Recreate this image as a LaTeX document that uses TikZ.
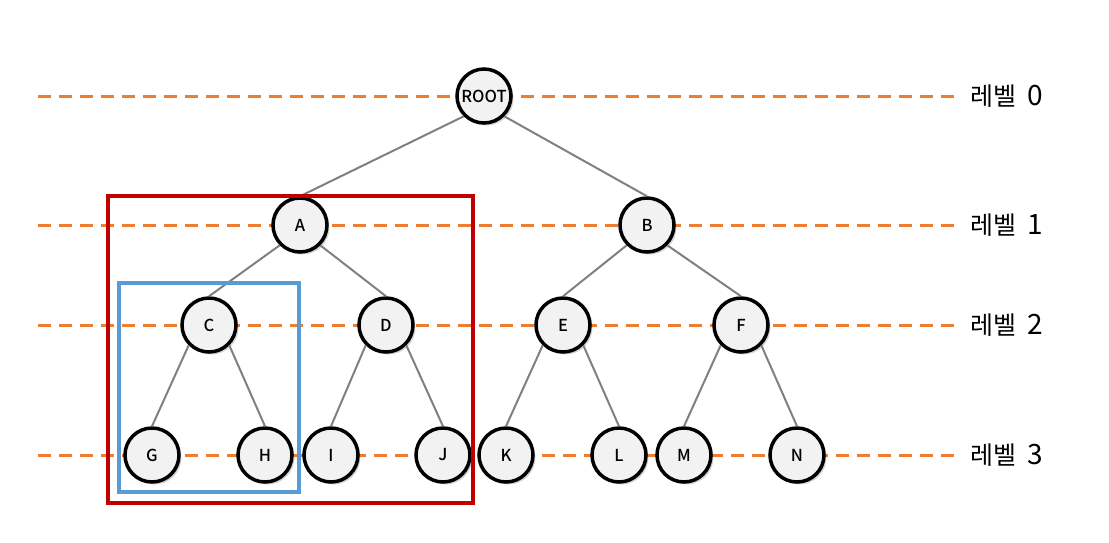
\documentclass[tikz,border=0pt]{standalone}
\usepackage{fontspec}
\setmainfont{Noto Sans CJK KR}
\newfontfamily\nodefont{Noto Sans CJK KR Medium}
\usetikzlibrary{shadows}
\definecolor{dashorange}{HTML}{ED7D31}
\definecolor{boxred}{HTML}{C00000}
\definecolor{boxblue}{HTML}{5B9BD5}
\definecolor{nodefill}{HTML}{F2F2F2}
\begin{document}
\begin{tikzpicture}[x=1pt,y=-1pt,
  treenode/.style={circle, draw=black, line width=3.5pt, fill=nodefill, minimum size=54pt, inner sep=0pt, font=\nodefont\fontsize{16.5}{19}\selectfont,
    drop shadow={opacity=0.35, shadow xshift=2.5pt, shadow yshift=-2.5pt}},
  levelline/.style={dashorange, line width=3pt, dash pattern=on 12.5pt off 8.5pt},
  edge/.style={draw=gray, line width=2pt},
  levellabel/.style={anchor=west, font=\fontsize{25}{29}\selectfont, inner sep=0pt}]
\useasboundingbox (0,0) rectangle (1109,542);
% level lines
\foreach \y/\n in {96/0,225/1,325/2,455/3}{
  \coordinate (ls\n) at (38,\y);
  \coordinate (le\n) at (955,\y);
  \draw[levelline] (ls\n) -- (le\n);
  \node[levellabel] (lab\n) at (970,\y) {레벨\hspace{11pt}{\fontsize{28}{30}\selectfont\n}};
}
% nodes
\node[treenode] (root) at (484,96) {ROOT};
\node[treenode] (A) at (300,225) {A};
\node[treenode] (B) at (647,225) {B};
\node[treenode] (C) at (209,325) {C};
\node[treenode] (D) at (386,325) {D};
\node[treenode] (E) at (563,325) {E};
\node[treenode] (F) at (741,325) {F};
\node[treenode] (G) at (152,455) {G};
\node[treenode] (H) at (265,455) {H};
\node[treenode] (I) at (331,455) {I};
\node[treenode] (J) at (443,455) {J};
\node[treenode] (K) at (506,455) {K};
\node[treenode] (L) at (619,455) {L};
\node[treenode] (M) at (684,455) {M};
\node[treenode] (N) at (797,455) {N};
% edges: from parent's lower-left / lower-right point to child's top
\foreach \a/\b in {root/A,A/C,B/E,C/G,D/I,E/K,F/M}{
  \draw[edge] (\a.south west) -- (\b.north);
}
\foreach \a/\b in {root/B,A/D,B/F,C/H,D/J,E/L,F/N}{
  \draw[edge] (\a.south east) -- (\b.north);
}
% boxes
\coordinate (r1) at (108,196);
\coordinate (r2) at (473,503);
\draw[boxred, line width=4pt] (r1) rectangle (r2);
\coordinate (b1) at (119,283);
\coordinate (b2) at (299,492);
\draw[boxblue, line width=4pt] (b1) rectangle (b2);
\end{tikzpicture}
\end{document}
